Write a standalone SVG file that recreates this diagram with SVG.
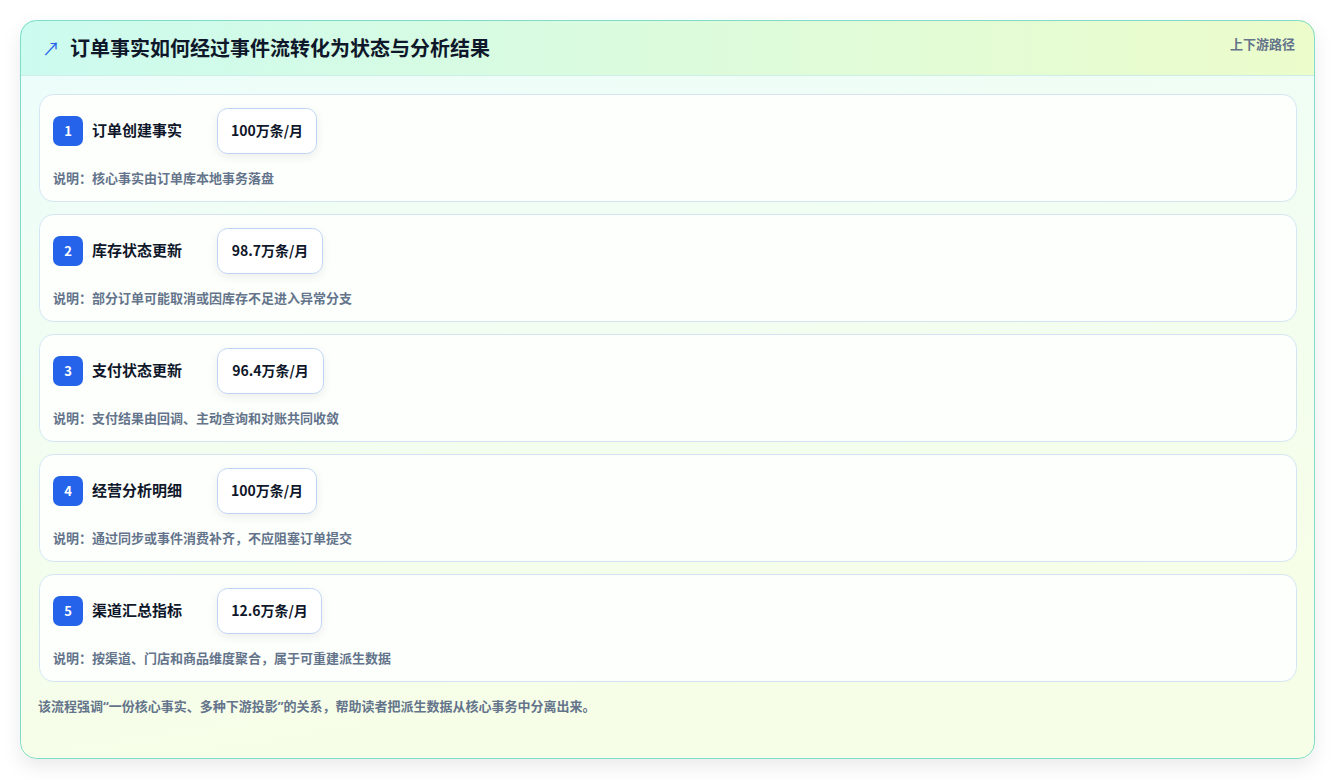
<svg xmlns="http://www.w3.org/2000/svg" width="1336" height="780" viewBox="0 0 1336 780">
<defs>
<linearGradient id="hdr" x1="0" y1="0" x2="1" y2="0">
<stop offset="0" stop-color="#ccfbef"/>
<stop offset="1" stop-color="#ecfccb"/>
</linearGradient>
<linearGradient id="body" x1="0" y1="0" x2="0.3" y2="1">
<stop offset="0" stop-color="#ecfdfb"/>
<stop offset="1" stop-color="#f7fee7"/>
</linearGradient>
<filter id="cardShadow" x="-5%" y="-5%" width="110%" height="115%">
<feDropShadow dx="0" dy="8" stdDeviation="9" flood-color="#0f172a" flood-opacity="0.08"/>
</filter>
<filter id="pillShadow" x="-20%" y="-20%" width="140%" height="160%">
<feDropShadow dx="0" dy="3" stdDeviation="4" flood-color="#0f172a" flood-opacity="0.07"/>
</filter>
<clipPath id="cardClip"><rect x="20" y="20" width="1295" height="739" rx="16"/></clipPath>
</defs>
<style>
text{font-family:"Noto Sans CJK SC","Noto Sans",sans-serif;}
.row{fill:#fdfffd;stroke:#d4e6f4;stroke-width:1;}
.badge{fill:#2563eb;}
.num{fill:#ffffff;font-size:13px;font-weight:700;text-anchor:middle;}
.name{fill:#0f172a;font-size:15px;font-weight:700;}
.pill{fill:#ffffff;stroke:#bfd4f2;stroke-width:1;}
.val{fill:#0f172a;font-size:14px;font-weight:700;text-anchor:middle;}
.desc{fill:#64748b;font-size:13px;font-weight:700;}
</style>
<rect x="20" y="20" width="1295" height="739" rx="16" fill="url(#body)" filter="url(#cardShadow)"/>
<g clip-path="url(#cardClip)">
<rect x="20" y="20" width="1295" height="55" fill="url(#hdr)"/>
<line x1="20" y1="75.5" x2="1315" y2="75.5" stroke="#cdeee6" stroke-width="1"/>
</g>
<rect x="20.5" y="20.5" width="1294" height="738" rx="16" fill="none" stroke="#7fdccb" stroke-width="1"/>
<g id="header">
<text x="51" y="56" font-size="18" fill="#2563eb" text-anchor="middle" font-family="DejaVu Sans, sans-serif">↗</text>
<text x="70" y="56" font-size="20" font-weight="700" fill="#0f172a">订单事实如何经过事件流转化为状态与分析结果</text>
<text x="1295" y="49" font-size="13" font-weight="700" fill="#64748b" text-anchor="end">上下游路径</text>
</g>
<g id="connectors"></g>
<g id="node1">
<rect class="row" x="39.5" y="94.5" width="1257" height="107" rx="14"/>
<rect class="badge" x="53" y="116" width="30" height="30" rx="7"/>
<text class="num" x="68" y="136">1</text>
<text class="name" x="92" y="136">订单创建事实</text>
<rect class="pill" x="217.5" y="108.5" width="99" height="45" rx="10" filter="url(#pillShadow)"/>
<text class="val" x="267" y="136">100万条/月</text>
<text class="desc" x="53" y="183">说明：核心事实由订单库本地事务落盘</text>
</g>
<g id="node2">
<rect class="row" x="39.5" y="214.5" width="1257" height="107" rx="14"/>
<rect class="badge" x="53" y="236" width="30" height="30" rx="7"/>
<text class="num" x="68" y="256">2</text>
<text class="name" x="92" y="256">库存状态更新</text>
<rect class="pill" x="217.5" y="228.5" width="105" height="45" rx="10" filter="url(#pillShadow)"/>
<text class="val" x="270" y="256">98.7万条/月</text>
<text class="desc" x="53" y="303">说明：部分订单可能取消或因库存不足进入异常分支</text>
</g>
<g id="node3">
<rect class="row" x="39.5" y="334.5" width="1257" height="107" rx="14"/>
<rect class="badge" x="53" y="356" width="30" height="30" rx="7"/>
<text class="num" x="68" y="376">3</text>
<text class="name" x="92" y="376">支付状态更新</text>
<rect class="pill" x="217.5" y="348.5" width="106" height="45" rx="10" filter="url(#pillShadow)"/>
<text class="val" x="270.5" y="376">96.4万条/月</text>
<text class="desc" x="53" y="423">说明：支付结果由回调、主动查询和对账共同收敛</text>
</g>
<g id="node4">
<rect class="row" x="39.5" y="454.5" width="1257" height="107" rx="14"/>
<rect class="badge" x="53" y="476" width="30" height="30" rx="7"/>
<text class="num" x="68" y="496">4</text>
<text class="name" x="92" y="496">经营分析明细</text>
<rect class="pill" x="217.5" y="468.5" width="99" height="45" rx="10" filter="url(#pillShadow)"/>
<text class="val" x="267" y="496">100万条/月</text>
<text class="desc" x="53" y="543">说明：通过同步或事件消费补齐，不应阻塞订单提交</text>
</g>
<g id="node5">
<rect class="row" x="39.5" y="574.5" width="1257" height="107" rx="14"/>
<rect class="badge" x="53" y="596" width="30" height="30" rx="7"/>
<text class="num" x="68" y="616">5</text>
<text class="name" x="92" y="616">渠道汇总指标</text>
<rect class="pill" x="217.5" y="588.5" width="104" height="45" rx="10" filter="url(#pillShadow)"/>
<text class="val" x="269.5" y="616">12.6万条/月</text>
<text class="desc" x="53" y="663">说明：按渠道、门店和商品维度聚合，属于可重建派生数据</text>
</g>
<text x="38" y="711" font-size="13" font-weight="700" fill="#64748b" style="font-family:'Noto Sans','Noto Sans CJK SC',sans-serif">该流程强调“一份核心事实、多种下游投影”的关系，帮助读者把派生数据从核心事务中分离出来。</text>
</svg>
